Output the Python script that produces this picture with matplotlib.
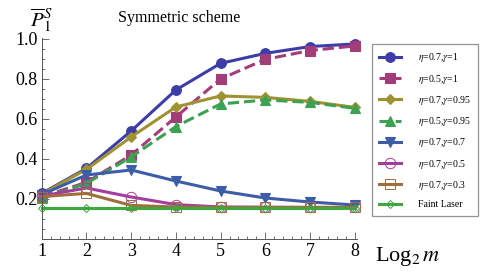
import matplotlib
matplotlib.use("Agg")
import matplotlib.pyplot as plt
from matplotlib.ticker import MultipleLocator

plt.rcParams["font.family"] = ["Liberation Serif", "DejaVu Serif"]
plt.rcParams["mathtext.fontset"] = "stix"

# log2 m
log2_m = [1, 2, 3, 4, 5, 6, 7, 8]

# averaged success probability for each setting
p_07_1 = [0.228, 0.353, 0.540, 0.745, 0.878, 0.928, 0.962, 0.975]
p_05_1 = [0.212, 0.283, 0.420, 0.610, 0.800, 0.898, 0.942, 0.965]
p_07_095 = [0.225, 0.348, 0.510, 0.660, 0.715, 0.708, 0.688, 0.658]
p_05_095 = [0.203, 0.278, 0.410, 0.562, 0.675, 0.695, 0.683, 0.653]
p_07_07 = [0.222, 0.320, 0.345, 0.290, 0.240, 0.205, 0.185, 0.170]
p_07_05 = [0.215, 0.255, 0.210, 0.172, 0.160, 0.159, 0.158, 0.158]
p_07_03 = [0.212, 0.228, 0.168, 0.160, 0.158, 0.158, 0.158, 0.158]
faint_laser = [0.157, 0.157, 0.157, 0.157, 0.157, 0.157, 0.157, 0.157]

labels = [r"$\eta$=0.7,$\gamma$=1", r"$\eta$=0.5,$\gamma$=1",
          r"$\eta$=0.7,$\gamma$=0.95", r"$\eta$=0.5,$\gamma$=0.95",
          r"$\eta$=0.7,$\gamma$=0.7", r"$\eta$=0.7,$\gamma$=0.5",
          r"$\eta$=0.7,$\gamma$=0.3", "Faint Laser"]

fig = plt.figure(figsize=(4.91, 2.73), dpi=100)
ax = fig.add_axes([0.085, 0.1245, 0.642, 0.7365])

# (data, color, marker, linestyle, filled, markersize)
series = [
    (p_07_1, "#3D3DA8", "o", "-", True, 7),
    (p_05_1, "#A33D7A", "s", "--", True, 6.5),
    (p_07_095, "#A09233", "D", "-", True, 5),
    (p_05_095, "#3DA152", "^", "--", True, 7),
    (p_07_07, "#3D5DA8", "v", "-", True, 7),
    (p_07_05, "#A33DA0", "o", "-", False, 7.5),
    (p_07_03, "#A06E3D", "s", "-", False, 7),
    (faint_laser, "#3DA83D", "D", "-", False, 4),
]

for (y, col, mk, ls, filled, ms), lab in zip(series, labels):
    ax.plot(log2_m, y, color=col, marker=mk, linestyle=ls, linewidth=2.2,
            markersize=ms, markerfacecolor=col if filled else "none",
            markeredgecolor=col, markeredgewidth=0.8 if filled else 0.7,
            label=lab, clip_on=False)

ax.set_xlim(1, 8.05)
ax.set_ylim(0, 1.005)
ax.spines["top"].set_visible(False)
ax.spines["right"].set_visible(False)
ax.spines["left"].set_color("#555555")
ax.spines["bottom"].set_color("#555555")
ax.spines["left"].set_linewidth(0.7)
ax.spines["bottom"].set_linewidth(0.7)

ax.set_xticks(log2_m)
ax.set_yticks([0.2, 0.4, 0.6, 0.8, 1.0])
ax.set_yticklabels(["0.2", "0.4", "0.6", "0.8", "1.0"])
ax.xaxis.set_minor_locator(MultipleLocator(0.2))
ax.yaxis.set_minor_locator(MultipleLocator(0.05))
ax.tick_params(which="both", direction="in", color="#555555", width=0.6,
               labelsize=13, pad=3)
ax.tick_params(which="major", length=5)
ax.tick_params(which="minor", length=2.5)

fig.text(0.062, 0.875, r"$\overline{P}_1^S$", fontsize=15, ha="left", va="bottom")
fig.text(0.365, 0.935, "Symmetric scheme", fontsize=11.5, ha="center", va="center")
fig.text(0.763, 0.062, r"Log$_2\,m$", fontsize=16, ha="left", va="center")

leg = ax.legend(loc="upper left", bbox_to_anchor=(0.757, 0.839),
                bbox_transform=fig.transFigure, fontsize=7, frameon=True,
                fancybox=False, edgecolor="#777777", labelspacing=0.85,
                handlelength=2.3, handletextpad=1.7, borderpad=0.75,
                borderaxespad=0)
leg.get_frame().set_linewidth(0.9)

fig.savefig("out.png", dpi=100)
